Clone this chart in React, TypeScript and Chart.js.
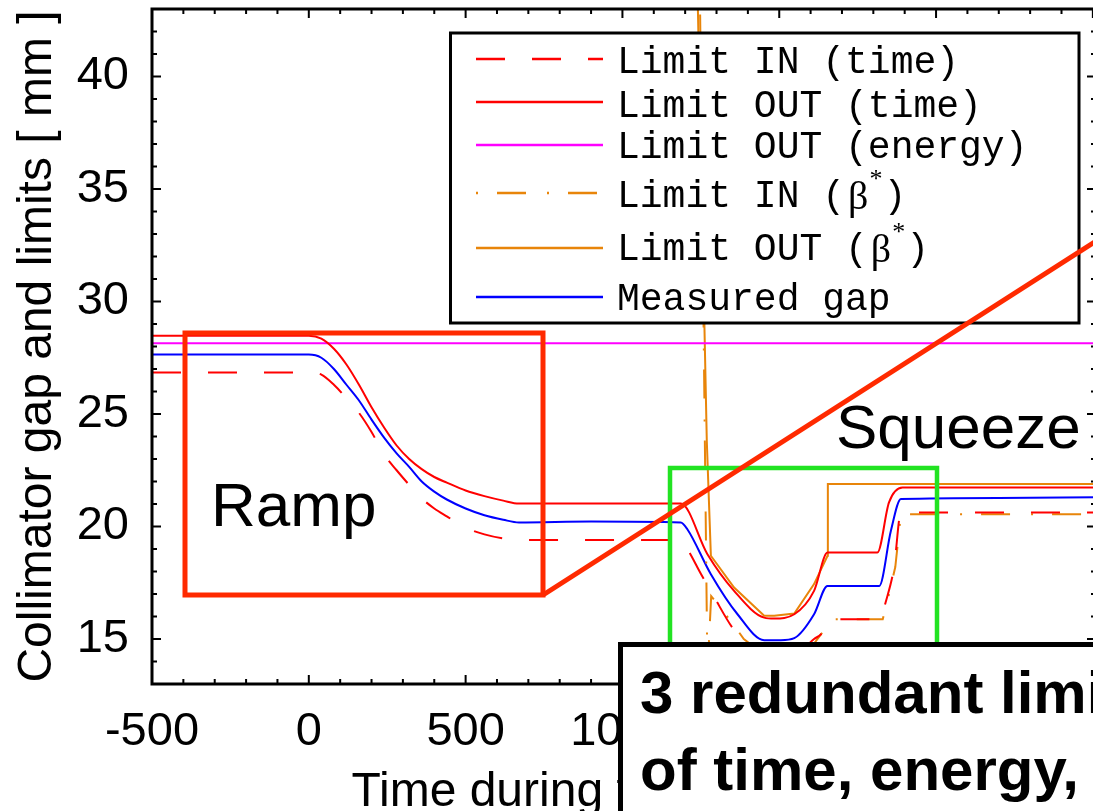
import { useEffect, useRef } from 'react';
import { Chart, registerables } from 'chart.js';

Chart.register(...registerables);

// ---------- axes ----------
const X_MIN = -500;
const X_MAX = 2510;
const Y_MIN = 13;
const Y_MAX = 43;
const xTickValues = [-500, 0, 500, 1000, 1500, 2000, 2500];
const yTickValues = [15, 20, 25, 30, 35, 40];
const X_MINOR = 100;
const Y_MINOR = 1;
const xTitle = 'Time during the cycle [ s ]';
const yTitle = 'Collimator gap and limits [ mm ]';

// ---------- series ----------
const seriesLabels = [
  'Limit IN (time)',
  'Limit OUT (time)',
  'Limit OUT (energy)',
  'Limit IN (β*)',
  'Limit OUT (β*)',
  'Measured gap',
];

const limitInTimeT = [-500, 0, 40, 80, 120, 160, 200, 240, 280, 320, 360, 400, 440, 500, 560, 620, 670, 1186, 1207, 1250, 1291, 1356, 1452, 1505, 1548, 1611, 1633, 1665, 1826, 1835, 1866, 1888, 2510];
const limitInTimeV = [26.85, 26.85, 26.75, 26.3, 25.7, 25.05, 24.2, 23.2, 22.5, 21.85, 21.25, 20.8, 20.45, 19.95, 19.65, 19.47, 19.4, 19.4, 19.0, 17.9, 16.9, 15.4, 14.15, 14.1, 14.2, 15.0, 15.21, 15.88, 15.88, 16.4, 18.18, 20.62, 20.62];

const limitOutTimeT = [-500, 0, 40, 80, 120, 160, 200, 240, 280, 320, 360, 400, 440, 500, 560, 620, 670, 1186, 1271, 1356, 1452, 1484, 1548, 1611, 1654, 1813, 1850, 1893, 2510];
const limitOutTimeV = [28.48, 28.48, 28.35, 27.9, 27.2, 26.3, 25.3, 24.4, 23.6, 23.0, 22.55, 22.2, 21.95, 21.6, 21.35, 21.15, 21.02, 21.02, 18.77, 17.14, 15.95, 15.91, 16.1, 17.14, 18.84, 18.84, 21.07, 21.73, 21.73];

const limitOutEnergyT = [-500, 2510];
const limitOutEnergyV = [28.15, 28.15];

const limitInBetaT = [1242, 1271, 1283, 1303, 1356, 1387, 1452, 1505, 1548, 1611, 1633, 1665, 1830, 1840, 1870, 1888, 2510];
const limitInBetaV = [50, 13.5, 16.9, 16.56, 15.6, 15.0, 14.3, 14.2, 14.3, 14.8, 15.2, 15.88, 15.88, 16.4, 18.2, 20.55, 20.55];

const limitOutBetaT = [1232, 1240, 1269, 1282, 1356, 1452, 1484, 1548, 1611, 1654, 1655, 2510];
const limitOutBetaV = [50, 43.4, 23.8, 18.7, 17.29, 16.03, 16.03, 16.13, 17.44, 18.7, 21.89, 21.89];

const measuredT = [-500, 0, 40, 80, 120, 160, 200, 240, 280, 320, 360, 400, 440, 500, 560, 620, 670, 900, 1186, 1207, 1282, 1367, 1452, 1505, 1548, 1611, 1654, 1819, 1856, 1888, 2200, 2510];
const measuredV = [27.64, 27.64, 27.5, 27.0, 26.3, 25.6, 24.75, 23.95, 23.25, 22.65, 22.0, 21.55, 21.2, 20.8, 20.5, 20.3, 20.18, 20.22, 20.18, 19.88, 17.88, 16.1, 14.95, 14.95, 15.04, 16.1, 17.36, 17.36, 19.81, 21.22, 21.27, 21.3];

// ---------- annotation text ----------
const rampLabel = 'Ramp';
const squeezeLabel = 'Squeeze';
const boxLines = ['3 redundant limits as function', 'of time, energy, β*'];

// ---------- styles ----------
const SANS = '"Liberation Sans", Arial, Helvetica, sans-serif';
const MONO = '"Liberation Mono", "DejaVu Sans Mono", monospace';
const SERIF = '"Liberation Serif", "DejaVu Serif", serif';
const RED = '#ff0000';
const MAGENTA = '#ff00ff';
const ORANGE = '#e8850a';
const BLUE = '#0000ff';
const ANNOT_RED = '#ff2a00';
const ANNOT_GREEN = '#22e322';

const toPts = (t: number[], v: number[]) => t.map((x, i) => ({ x, y: v[i] }));

const seriesData = [
  toPts(limitInTimeT, limitInTimeV),
  toPts(limitOutTimeT, limitOutTimeV),
  toPts(limitOutEnergyT, limitOutEnergyV),
  toPts(limitInBetaT, limitInBetaV),
  toPts(limitOutBetaT, limitOutBetaV),
  toPts(measuredT, measuredV),
];
const seriesColors = [RED, RED, MAGENTA, ORANGE, ORANGE, BLUE];
const seriesDash: number[][] = [[29, 27], [], [], [2, 19, 29, 21], [], []];
const seriesSmooth = [true, true, false, false, false, true];

const decorPlugin = {
  id: 'decor',
  afterDraw(chart: any) {
    const ctx = chart.ctx as CanvasRenderingContext2D;
    const ca = chart.chartArea;
    const xs = chart.scales.x;
    const ys = chart.scales.y;
    ctx.save();

    // ticks (inward, mirrored)
    ctx.strokeStyle = '#000';
    ctx.lineWidth = 2;
    ctx.setLineDash([]);
    ctx.beginPath();
    for (let v = X_MIN; v <= X_MAX + 1e-6; v += X_MINOR) {
      const p = xs.getPixelForValue(v);
      const len = Math.abs(v % 500) < 1e-6 ? 9 : 5;
      ctx.moveTo(p, ca.bottom); ctx.lineTo(p, ca.bottom - len);
      ctx.moveTo(p, ca.top); ctx.lineTo(p, ca.top + len);
    }
    for (let v = Y_MIN; v <= Y_MAX + 1e-6; v += Y_MINOR) {
      const p = ys.getPixelForValue(v);
      const len = Math.abs(v % 5) < 1e-6 ? 9 : 5;
      ctx.moveTo(ca.left, p); ctx.lineTo(ca.left + len, p);
      ctx.moveTo(ca.right, p); ctx.lineTo(ca.right - len, p);
    }
    ctx.stroke();
    ctx.lineWidth = 3;
    ctx.strokeRect(ca.left, ca.top, ca.right - ca.left, ca.bottom - ca.top);

    // legend
    const L = { x: 450.5, y: 33, w: 628.5, h: 290 };
    ctx.fillStyle = '#fff';
    ctx.fillRect(L.x, L.y, L.w, L.h);
    ctx.lineWidth = 3;
    ctx.strokeStyle = '#000';
    ctx.strokeRect(L.x, L.y, L.w, L.h);
    const lineY = [59, 102, 145, 193, 248, 297];
    const textY = [73, 117, 158, 207, 260, 310];
    chart.data.datasets.forEach((ds: any, i: number) => {
      ctx.save();
      ctx.strokeStyle = ds.borderColor;
      ctx.lineWidth = 2.5;
      ctx.setLineDash(ds.borderDash || []);
      ctx.beginPath();
      ctx.moveTo(476, lineY[i]);
      ctx.lineTo(603, lineY[i]);
      ctx.stroke();
      ctx.restore();
      ctx.fillStyle = '#000';
      ctx.textBaseline = 'alphabetic';
      ctx.textAlign = 'left';
      ctx.font = `38px ${MONO}`;
      const label: string = ds.label;
      const tx = 617;
      if (label.includes('β*')) {
        const [pre, post] = label.split('β*');
        ctx.fillText(pre, tx, textY[i]);
        let cx = tx + ctx.measureText(pre).width + 3;
        ctx.font = `40px ${SERIF}`;
        ctx.fillText('β', cx, textY[i] + 2);
        cx += ctx.measureText('β').width + 1;
        ctx.font = `26px ${SERIF}`;
        ctx.fillText('*', cx, textY[i] - 20);
        cx += ctx.measureText('*').width + 1;
        ctx.font = `38px ${MONO}`;
        ctx.fillText(post, cx, textY[i]);
      } else {
        ctx.fillText(label, tx, textY[i]);
      }
    });

    // green squeeze box
    ctx.strokeStyle = ANNOT_GREEN;
    ctx.lineWidth = 4.5;
    ctx.strokeRect(670, 468, 267, 240);

    // red ramp box + pointer line
    ctx.strokeStyle = ANNOT_RED;
    ctx.lineWidth = 5;
    ctx.strokeRect(185, 333, 358, 262);
    ctx.beginPath();
    ctx.moveTo(543, 595);
    ctx.lineTo(1200, 174.5);
    ctx.stroke();

    // labels
    ctx.fillStyle = '#000';
    ctx.font = `62px ${SANS}`;
    ctx.fillText(rampLabel, 211, 526);
    ctx.fillText(squeezeLabel, 836, 448);

    // bottom text box
    ctx.fillStyle = '#fff';
    ctx.fillRect(620.5, 644.5, 700, 300);
    ctx.strokeStyle = '#000';
    ctx.lineWidth = 5;
    ctx.strokeRect(620.5, 644.5, 700, 300);
    ctx.fillStyle = '#000';
    ctx.font = `bold 60px ${SANS}`;
    ctx.fillText(boxLines[0], 640, 713);
    ctx.fillText(boxLines[1], 640, 790);

    ctx.restore();
  },
};

export default function App() {
  const ref = useRef<HTMLCanvasElement>(null);
  useEffect(() => {
    document.body.style.margin = '0';
    const chart = new Chart(ref.current as HTMLCanvasElement, {
      type: 'line',
      data: {
        datasets: seriesData.map((d, i) => ({
          label: seriesLabels[i],
          data: d,
          borderColor: seriesColors[i],
          backgroundColor: seriesColors[i],
          borderDash: seriesDash[i],
          borderWidth: 2,
          pointRadius: 0,
          fill: false,
          tension: 0,
          cubicInterpolationMode: seriesSmooth[i] ? 'monotone' : 'default',
        })),
      },
      options: {
        responsive: false,
        animation: false,
        layout: { padding: { left: 0, top: 9, right: 104, bottom: 0 } },
        plugins: { legend: { display: false }, tooltip: { enabled: false } },
        scales: {
          x: {
            type: 'linear',
            min: X_MIN,
            max: X_MAX,
            grid: { display: false },
            border: { display: false },
            afterBuildTicks: (s: any) => { s.ticks = xTickValues.map((v) => ({ value: v })); },
            afterFit: (s: any) => { s.height = 127; s.paddingLeft = 0; s.paddingRight = 0; },
            ticks: {
              autoSkip: false,
              maxRotation: 0,
              color: '#000',
              padding: 12,
              font: { family: SANS, size: 47 },
              callback: (v: any) => String(v),
            },
            title: {
              display: true,
              text: xTitle,
              color: '#000',
              font: { family: SANS, size: 48, lineHeight: 0.78 },
              padding: { top: 0, bottom: 0 },
            },
          },
          y: {
            type: 'linear',
            min: Y_MIN,
            max: Y_MAX,
            grid: { display: false },
            border: { display: false },
            afterBuildTicks: (s: any) => { s.ticks = yTickValues.map((v) => ({ value: v })); },
            afterFit: (s: any) => { s.width = 152; s.paddingTop = 0; s.paddingBottom = 0; },
            ticks: {
              color: '#000',
              padding: 15,
              font: { family: SANS, size: 47 },
            },
            title: {
              display: true,
              text: yTitle,
              color: '#000',
              font: { family: SANS, size: 48, lineHeight: 1.2 },
              padding: { top: 9, bottom: 0 },
            },
          },
        },
      },
      plugins: [decorPlugin],
    } as any);
    return () => chart.destroy();
  }, []);
  return (
    <div style={{ position: 'fixed', left: 0, top: 0, width: 1093, height: 811, overflow: 'hidden', background: '#fff' }}>
      <canvas ref={ref} width={1200} height={811} style={{ display: 'block' }} />
    </div>
  );
}
